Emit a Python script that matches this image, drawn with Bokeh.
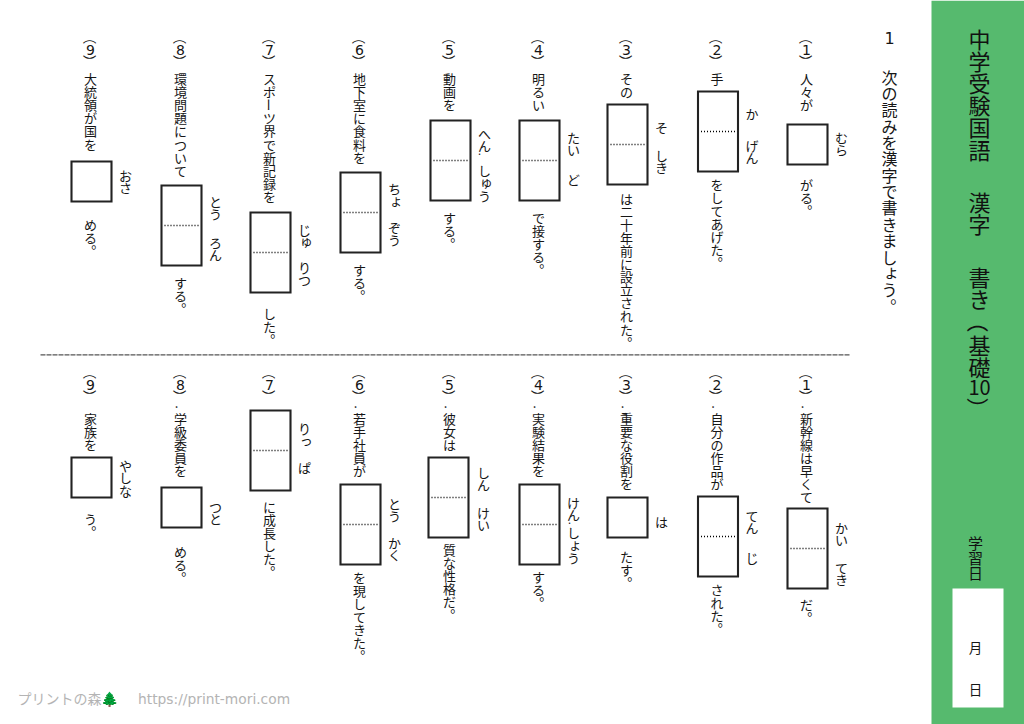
from bokeh.core.properties import value
from bokeh.embed import file_html
from bokeh.resources import INLINE
from bokeh.models import ColumnDataSource, Range1d
from bokeh.plotting import figure
import math

# ---- worksheet contents ----
title_parts = ["中学受験国語", "漢字", "書き", "（基礎", "10", "）"]
title_starts = [27, 190, 265, 311, 388, 398]
heading_no = "1"
heading = "次の読みを漢字で書きましょう。"
numbers = ["1", "2", "3", "4", "5", "6", "7", "8", "9"]
centers = [807, 717.5, 627, 539, 450, 360, 270, 181, 91]

top_stems = ["人々が", "手", "その", "明るい", "動画を", "地下室に食料を", "スポーツ界で新記録を", "環境問題について", "大統領が国を"]
top_tails = ["がる。", "をしてあげた。", "は二十年前に設立された。", "で接する。", "する。", "する。", "した。", "する。", "める。"]
top_tail_y = [178, 178, 192, 211, 211, 263, 307, 276, 218]
top_box_y = [124, 91, 104, 120, 120, 172, 212, 185, 161]
top_box_cells = [1, 2, 2, 2, 2, 2, 2, 2, 1]
top_kana = [["むら"], ["か", "げん"], ["そ", "しき"], ["たい", "ど"], ["へん", "しゅう"], ["ちょ", "ぞう"], ["じゅ", "りつ"], ["とう", "ろん"], ["おさ"]]
top_kana_y = [[132], [108, 140], [122, 150], [132, 174], [128, 165], [183, 222], [224, 262], [196, 237], [170]]

bot_stems = ["新幹線は早くて", "自分の作品が", "重要な役割を", "実験結果を", "彼女は", "若手社員が", "", "学級委員を", "家族を"]
bot_dots = [1, 1, 1, 1, 1, 1, 0, 1, 0]
bot_tails = ["だ。", "された。", "たす。", "する。", "質な性格だ。", "を現してきた。", "に成長した。", "める。", "う。"]
bot_tail_y = [598, 583, 550, 570, 543, 571, 500, 545, 512]
bot_box_y = [508, 496, 497, 484, 457, 484, 410, 487, 457]
bot_box_cells = [2, 2, 1, 2, 2, 2, 2, 1, 1]
bot_box_shift = [0, 0, 0, 0, -2, 0, 0, 0, 0]
bot_kana = [["かい", "てき"], ["てん", "じ"], ["は"], ["けん", "しょう"], ["しん", "けい"], ["とう", "かく"], ["りっ", "ぱ"], ["つと"], ["やしな"]]
bot_kana_y = [[522, 562], [510, 552], [516], [497, 527], [467, 507], [498, 537], [423, 462], [501], [460]]
stray_dots = [(480, 151), (570, 520)]

side_label = "学習日"
date_labels = ["月", "日"]
brand = "プリントの森🌲"
url = "https://print-mori.com"

GREEN = "#56BA6E"
INK = "#161616"
FONT = "'DejaVu Sans', 'Noto Sans CJK JP'"
JP = "'Noto Sans CJK JP'"

p = figure(width=1024, height=724, x_range=Range1d(0, 1024), y_range=Range1d(724, 0),
           output_backend="svg", toolbar_location=None, min_border=0)
p.axis.visible = False
p.grid.visible = False
p.outline_line_color = None
p.background_fill_color = "white"

p.quad(left=[931], right=[1030], top=[0], bottom=[730], fill_color=GREEN, line_color=None)
p.quad(left=[952], right=[1003], top=[588], bottom=[707], fill_color="white", line_color=None)

txt = dict(x=[], y=[], text=[], angle=[], size=[], font=[], color=[])
SMALL = set("ょゅゃっッ")
ROTATED = set("（）ー")


def put(ch, x, y, size, color=INK, angle=0.0, font=FONT):
    txt["x"].append(x - 1)
    txt["y"].append(y - 1)
    txt["text"].append(ch)
    txt["angle"].append(angle)
    txt["size"].append(f"{size}px")
    txt["font"].append(font)
    txt["color"].append(color)


def vertical(s, x, start, pitch, size, color=INK):
    for i, ch in enumerate(s):
        cy = start + (i + 0.5) * pitch
        if ch == "。":
            put(ch, x + 0.55 * size, cy - 0.6 * size, size, color, font=JP)
        elif ch in SMALL:
            put(ch, x + 0.13 * size, cy - 0.13 * size, size, color, font=JP)
        elif ch in ROTATED:
            put(ch, x, cy, size, color, angle=-math.pi / 2, font=JP)
        else:
            put(ch, x, cy, size, color, font=JP)


lefts, rights, tops, bottoms, mx0, mx1, my = [], [], [], [], [], [], []


def question(i, stem, tail, tail_y, box_y, cells, kana, kana_y, num_y, stem_y, dot, shift=0):
    c = centers[i] + shift
    base = centers[i]
    put("（", base, num_y - 12, 13.5, angle=-math.pi / 2, font=JP)
    put(numbers[i], base, num_y, 14, font="'DejaVu Sans'")
    put("）", base, num_y + 12, 13.5, angle=-math.pi / 2, font=JP)
    if dot:
        put(".", base - 4, stem_y - 9, 13, font=JP)
    vertical(stem, base, stem_y, 13.1, 13)
    vertical(tail, base, tail_y, 13.1, 13)
    h = 80 if cells == 2 else 40
    lefts.append(c - 20)
    rights.append(c + 20)
    tops.append(box_y)
    bottoms.append(box_y + h)
    if cells == 2:
        mx0.append(c - 17)
        mx1.append(c + 18)
        my.append(box_y + 40)
    for s, y in zip(kana, kana_y):
        vertical(s, c + 35 + (0 if shift == 0 else 1), y, 12.3, 13)


for i in range(9):
    question(i, top_stems[i], top_tails[i], top_tail_y[i], top_box_y[i], top_box_cells[i],
             top_kana[i], top_kana_y[i], 50, 72.5, 0)
    question(i, bot_stems[i], bot_tails[i], bot_tail_y[i], bot_box_y[i], bot_box_cells[i],
             bot_kana[i], bot_kana_y[i], 385, 412, bot_dots[i], bot_box_shift[i])

for x, y in stray_dots:
    put(".", x, y, 11, font=JP)

# heading
put(heading_no, 890, 38, 16, font="'DejaVu Sans'")
vertical(heading, 890, 69, 16.35, 16)

# side title
for part, st in zip(title_parts, title_starts):
    if part == "10":
        put(part, 980, st, 20, color="#111111", font="'Noto Sans CJK JP'")
    else:
        vertical(part, 980, st, 22.2, 22, color="#111111")
vertical(side_label, 976, 535, 15, 15, color="#111111")
put(date_labels[0], 976, 647, 13.5, font=JP)
put(date_labels[1], 976, 689, 13.5, font=JP)

# divider
div = p.segment(x0=[40], x1=[850], y0=[354.4], y1=[354.4], line_color="#555555", line_width=1.3)
div.glyph.line_dash = [5, 1]

p.quad(left=lefts, right=rights, top=tops, bottom=bottoms, fill_color=None, line_color="#222222",
       line_width=2.1, line_join="miter")
mid = p.segment(x0=mx0, x1=mx1, y0=my, y1=my, line_color="#000000", line_width=1.6)
mid.glyph.line_dash = [1, 2]

src = ColumnDataSource(txt)
p.text(x="x", y="y", text="text", angle="angle", text_font_size="size", text_font="font",
       text_color="color", text_align="center", text_baseline="middle", source=src)

p.text(x=[17], y=[697.5], text=[brand], text_font_size="14px", text_font=value(JP), text_color="#b4b4b4",
       text_align="left", text_baseline="middle")
p.text(x=[137.5], y=[698], text=[url], text_font_size="13.8px", text_font=value("'DejaVu Sans'"), text_color="#b4b4b4",
       text_align="left", text_baseline="middle")

open("out.html", "w").write(file_html(p, INLINE))
